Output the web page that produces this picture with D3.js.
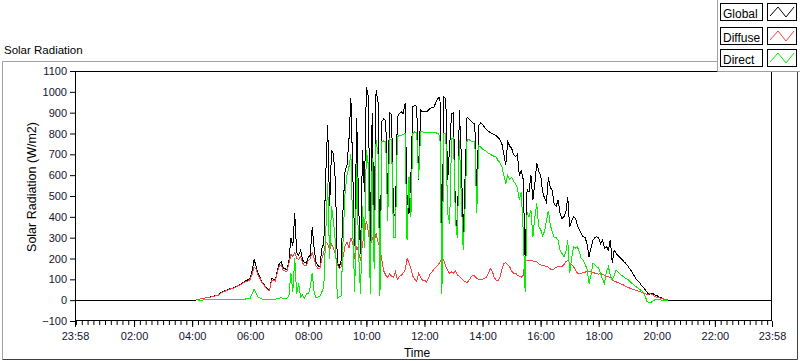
<!DOCTYPE html>
<html><head><meta charset="utf-8">
<script src="https://cdn.jsdelivr.net/npm/d3@7"></script>
<style>
html,body{margin:0;padding:0;background:#fff;}
svg{display:block;}
text{font-family:"Liberation Sans",Arial,sans-serif;}
</style></head>
<body>
<svg id="chart" width="800" height="361"></svg>
<script>
// ---- data (minutes from midnight, 4-minute samples starting 04:00) ----
const sampleStart = 240;   // 04:00
const sampleStep = 4;      // minutes
const seriesNames = ["Global", "Diffuse", "Direct"];
const seriesColors = ["#000000", "#ff4040", "#00f000"];

const globalRad = [
 0,0,1,3,5,7,9,11,13,15,17,19,21,24,27,
 37,41,45,49,53,56,58,62,68,72,76,82,90,95,98,
 108,140,195,165,128,110,88,78,62,52,48,104,100,96,140,
 176,184,155,150,148,190,300,260,416,230,215,240,195,180,178,
 205,215,350,250,180,165,160,250,270,600,840,450,720,700,570,
 180,160,190,450,620,650,770,968,600,260,872,450,224,720,520,
 1024,980,280,900,340,1008,950,60,860,870,860,480,900,890,420,
 400,880,896,904,896,944,500,416,600,928,936,928,576,912,904,
 904,904,912,920,925,928,952,968,976,210,976,968,576,736,896,
 900,420,300,912,700,280,600,880,870,860,850,848,500,840,850,
 845,830,820,810,805,800,795,790,780,770,750,700,650,760,740,
 730,700,690,700,600,620,580,190,530,520,600,480,560,656,620,
 600,520,490,470,590,540,528,460,450,480,420,392,400,420,496,
 352,380,400,392,360,336,320,304,300,270,208,250,288,300,304,
 300,270,290,250,258,240,290,180,240,224,215,205,195,185,176,
 165,150,138,122,105,95,85,72,62,50,38,26,34,32,25,
 22,16,12,8,5,2,0,0,0,0,0
];
const diffuseRad = [
 null,null,1,3,5,7,9,11,13,14,16,18,20,23,26,
 35,39,43,47,51,54,56,60,66,70,74,80,86,90,92,
 100,125,160,150,120,105,85,75,60,50,46,95,95,92,130,
 165,170,145,140,140,175,220,210,230,200,195,210,180,165,165,
 190,200,230,200,165,150,150,200,230,280,270,240,270,250,220,
 170,150,160,210,260,280,250,300,270,200,260,230,190,270,320,
 380,330,260,300,280,320,280,250,190,140,120,110,125,115,110,
 136,100,112,120,130,144,200,180,150,115,100,90,128,110,96,
 96,88,104,128,136,152,160,168,184,200,192,160,144,128,136,
 130,140,120,115,105,95,90,85,95,110,120,115,105,100,100,
 100,105,110,130,150,140,110,95,95,110,150,175,180,170,160,
 140,130,130,120,115,110,120,185,190,192,190,188,186,184,175,
 170,165,165,162,158,150,146,150,158,160,160,162,170,185,190,
 180,170,160,145,130,128,130,132,135,136,136,135,132,130,128,
 125,128,125,120,115,112,110,100,92,88,84,80,76,72,66,
 62,58,54,50,48,45,42,38,34,30,28,30,30,25,18,
 14,12,10,7,4,2,0,null,null,null,null
];
const directRad = [
 null,null,null,0,0,0,1,1,1,1,1,2,2,2,2,
 2,2,3,3,3,3,3,4,4,4,4,5,5,6,8,
 10,30,52,35,15,10,6,4,3,3,2,4,5,5,8,
 10,12,8,8,10,20,130,40,200,30,80,15,25,10,30,
 30,60,130,40,10,15,20,40,60,320,560,200,450,380,280,
 10,15,20,300,520,600,640,700,320,40,660,220,30,450,250,
 720,650,30,680,150,770,700,20,760,765,760,380,775,770,300,
 300,784,792,792,795,800,288,592,400,800,808,803,584,808,808,
 803,803,803,805,805,803,803,800,784,30,800,800,416,368,776,
 780,380,300,770,500,240,450,770,770,765,760,760,420,740,735,
 725,720,715,705,700,695,690,688,670,660,640,600,560,600,580,
 590,570,560,540,480,520,330,40,420,400,432,304,400,464,352,
 340,310,330,380,430,360,330,300,300,288,240,224,208,230,288,
 130,200,256,250,256,230,200,192,170,150,80,120,176,170,160,
 155,128,100,80,140,160,120,96,120,144,135,125,118,112,104,
 100,90,82,74,66,60,52,46,38,20,-8,-11,-10,-5,2,
 3,2,1,0,0,0,0,null,null,null,null
];

// axis domain: 23:58 (previous day) to 23:58
const xDomain = [-2, 1438];
const xMajorTicks = [-2,120,240,360,480,600,720,840,960,1080,1200,1320,1438];
const xTickLabels = ["23:58","02:00","04:00","06:00","08:00","10:00","12:00","14:00","16:00","18:00","20:00","22:00","23:58"];
const xMinorStep = 12;
const yDomain = [-100, 1100];
const yTicks = [-100,0,100,200,300,400,500,600,700,800,900,1000,1100];

// ---- layout ----
const svg = d3.select("#chart");
const L = 75, R = 772, T = 71, B = 321;
const x = d3.scaleLinear().domain(xDomain).range([L, R]);
const y = d3.scaleLinear().domain(yDomain).range([B, T]);
const tickColor = "#14142e";

// outer frame
svg.append("path").attr("d","M2.5,359.5 V61.5 H797.5").attr("fill","none").attr("stroke","#a0a0a0");
svg.append("path").attr("d","M2.5,359.5 H797.5 V61.5").attr("fill","none").attr("stroke","#404040");
svg.append("text").attr("x",4).attr("y",54).attr("font-size",11.5).attr("fill","#000").text("Solar Radiation");

// plot background
svg.append("rect").attr("x",L).attr("y",T).attr("width",R-L).attr("height",B-T).attr("fill","#fff");

// series
const timeAt = i => sampleStart + i*sampleStep;
function buildPoints(arr, padNight){
  const pts = arr.map((v,i)=>({t:timeAt(i), v:v}));
  if(padNight){ pts.unshift({t:xDomain[0], v:0}); pts.push({t:xDomain[1], v:0}); }
  return pts;
}
const seriesData = [buildPoints(globalRad,true), buildPoints(diffuseRad,false), buildPoints(directRad,false)];
const line = d3.line().defined(d=>d.v!==null).x(d=>x(d.t)).y(d=>y(d.v));
const g = svg.append("g");
seriesData.forEach((pts,k)=>{
  g.append("path").attr("d",line(pts)).attr("fill","none")
   .attr("stroke",seriesColors[k]).attr("stroke-width",1).attr("shape-rendering","crispEdges");
});

// plot border
svg.append("rect").attr("x",L+0.5).attr("y",T+0.5).attr("width",R-L-1).attr("height",B-T-1)
  .attr("fill","none").attr("stroke","#000");

// y axis
const yAxis = svg.append("g").attr("transform",`translate(${L},0)`)
  .call(d3.axisLeft(y).tickValues(yTicks).tickSize(5).tickPadding(3).tickFormat(d3.format("d")));
yAxis.select(".domain").remove();
yAxis.selectAll("line").attr("stroke","#000");
yAxis.selectAll("text").attr("font-size",11).attr("fill",tickColor).attr("font-family","Liberation Sans, Arial, sans-serif");

// x axis
const minorTicks = d3.range(0, xDomain[1], xMinorStep);
const xMinor = svg.append("g").attr("transform",`translate(0,${B})`)
  .call(d3.axisBottom(x).tickValues(minorTicks).tickSize(4).tickFormat(""));
xMinor.select(".domain").remove();
xMinor.selectAll("line").attr("stroke","#000");
const xAxis = svg.append("g").attr("transform",`translate(0,${B})`)
  .call(d3.axisBottom(x).tickValues(xMajorTicks).tickSize(6).tickPadding(5).tickFormat((d,i)=>xTickLabels[i]));
xAxis.select(".domain").remove();
xAxis.selectAll("line").attr("stroke","#000").attr("stroke-width",1);
xAxis.selectAll("text").attr("font-size",11).attr("fill",tickColor).attr("font-family","Liberation Sans, Arial, sans-serif");

// axis titles
svg.append("text").attr("x",417).attr("y",357).attr("text-anchor","middle").attr("font-size",12).attr("fill","#000").text("Time");
svg.append("text").attr("transform","translate(36,187) rotate(-90)").attr("text-anchor","middle")
  .attr("font-size",12.5).attr("fill","#000").text("Solar Radiation (W/m2)");

// legend
const leg = svg.append("g");
leg.append("rect").attr("x",717).attr("y",0).attr("width",83).attr("height",71).attr("fill","#fff");
leg.append("path").attr("d","M717.5,0 V71.5 H800").attr("fill","none").attr("stroke","#a0a0a0");
const legTop = [3, 27, 49];
seriesNames.forEach((name,k)=>{
  const ty = legTop[k];
  leg.append("rect").attr("x",720.5).attr("y",ty+0.5).attr("width",42).attr("height",17).attr("fill","#fff").attr("stroke","#000");
  leg.append("text").attr("x",723).attr("y",ty+14.5).attr("font-size",12).attr("fill","#000").text(name);
  leg.append("rect").attr("x",767.5).attr("y",ty+0.5).attr("width",29).attr("height",17).attr("fill","#fff").attr("stroke","#000");
  const zz = [[770,ty+13],[778,ty+4],[786,ty+14],[794,ty+4]];
  leg.append("path").attr("d",d3.line()(zz)).attr("fill","none").attr("stroke",seriesColors[k]);
});
</script>
</body></html>
